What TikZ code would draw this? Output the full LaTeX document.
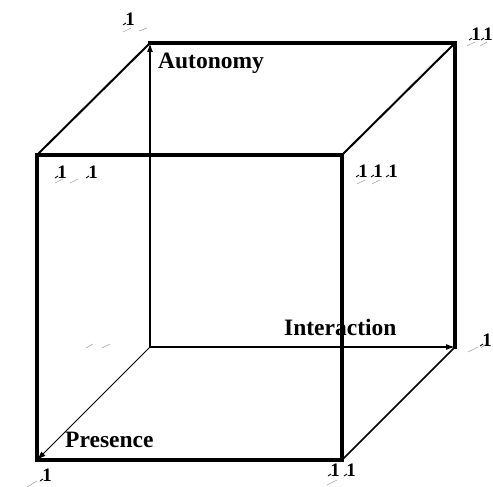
\documentclass[tikz,border=0pt]{standalone}
\usepackage{fontspec}
\setmainfont{Liberation Serif}
\usetikzlibrary{arrows.meta,calc}
\tikzset{
  edgethick/.style={line width=3.4pt, line cap=rect},
  edgemid/.style={line width=2pt},
  edgethin/.style={line width=1.5pt},
  axis/.style={line width=1.3pt, -{Latex[length=9pt,width=6pt]}},
  axislbl/.style={font=\bfseries\fontsize{23.5}{25}\selectfont, inner sep=0pt, anchor=west},
  onelbl/.style={font=\bfseries\fontsize{19}{20}\selectfont, inner sep=0pt},
  greydash/.style={gray!70, line width=0.6pt},
}
\newcommand{\onemark}[3]{% name, x, y
  \node[onelbl] (#1) at (#2,#3) {1};
  \draw[line width=0.9pt] ($(#2,#3)+(-7,6)$) -- ($(#2,#3)+(-4,4)$);
}
\begin{document}
\begin{tikzpicture}[x=1pt,y=-1pt]
\useasboundingbox (0,0) rectangle (493,487);
% front square
\coordinate (A) at (37,155);
\coordinate (B) at (342,155);
\coordinate (C) at (342,460);
\coordinate (D) at (37,460);
% back square
\coordinate (E) at (150,43);
\coordinate (F) at (455,43);
\coordinate (G) at (455,347);
\coordinate (H) at (150,347);
% back edges
\draw[edgethick] (E) -- (F) -- (G);
% connecting edges
\draw[edgemid] (A) -- (E);
\draw[edgemid] (B) -- (F);
\draw[edgethin] (C) -- (G);
% axes
\draw[axis] (H) -- (E);
\draw[axis] (H) -- (G);
\draw[line width=0.9pt, -{Latex[length=9pt,width=6pt]}] (H) -- (D);
% front square
\draw[edgethick] (A) -- (B) -- (C) -- (D) -- cycle;
% axis labels
\node[axislbl] (aut) at (158,63) {Autonomy};
\node[axislbl] (int) at (284,327) {Interaction};
\node[axislbl] (pre) at (65,440) {Presence};
% corner labels
\onemark{e1}{130}{19}
\draw[greydash] (123,32) -- (131,28) (139,31) -- (147,28);
\onemark{f1}{476}{34}
\onemark{f2}{488}{34}
\draw[greydash] (467,46) -- (475,42) (480,46) -- (487,42);
\onemark{a1}{62}{172}
\onemark{a2}{93}{172}
\draw[greydash] (55,183) -- (63,179) (70,183) -- (78,179);
\onemark{b1}{363}{171}
\onemark{b2}{378}{171}
\onemark{b3}{393}{171}
\draw[greydash] (357,184) -- (365,180) (372,184) -- (380,180);
\draw[greydash] (86,348) -- (93,344) (102,348) -- (110,344);
\onemark{g1}{487}{340}
\draw[greydash] (468,352) -- (478,347) (481,348) -- (486,344);
\onemark{c1}{335}{470}
\onemark{c2}{351}{470}
\draw[greydash] (327,485) -- (337,480);
\onemark{d1}{47}{475}
\draw[greydash] (27,487) -- (37,481);
\end{tikzpicture}
\end{document}
